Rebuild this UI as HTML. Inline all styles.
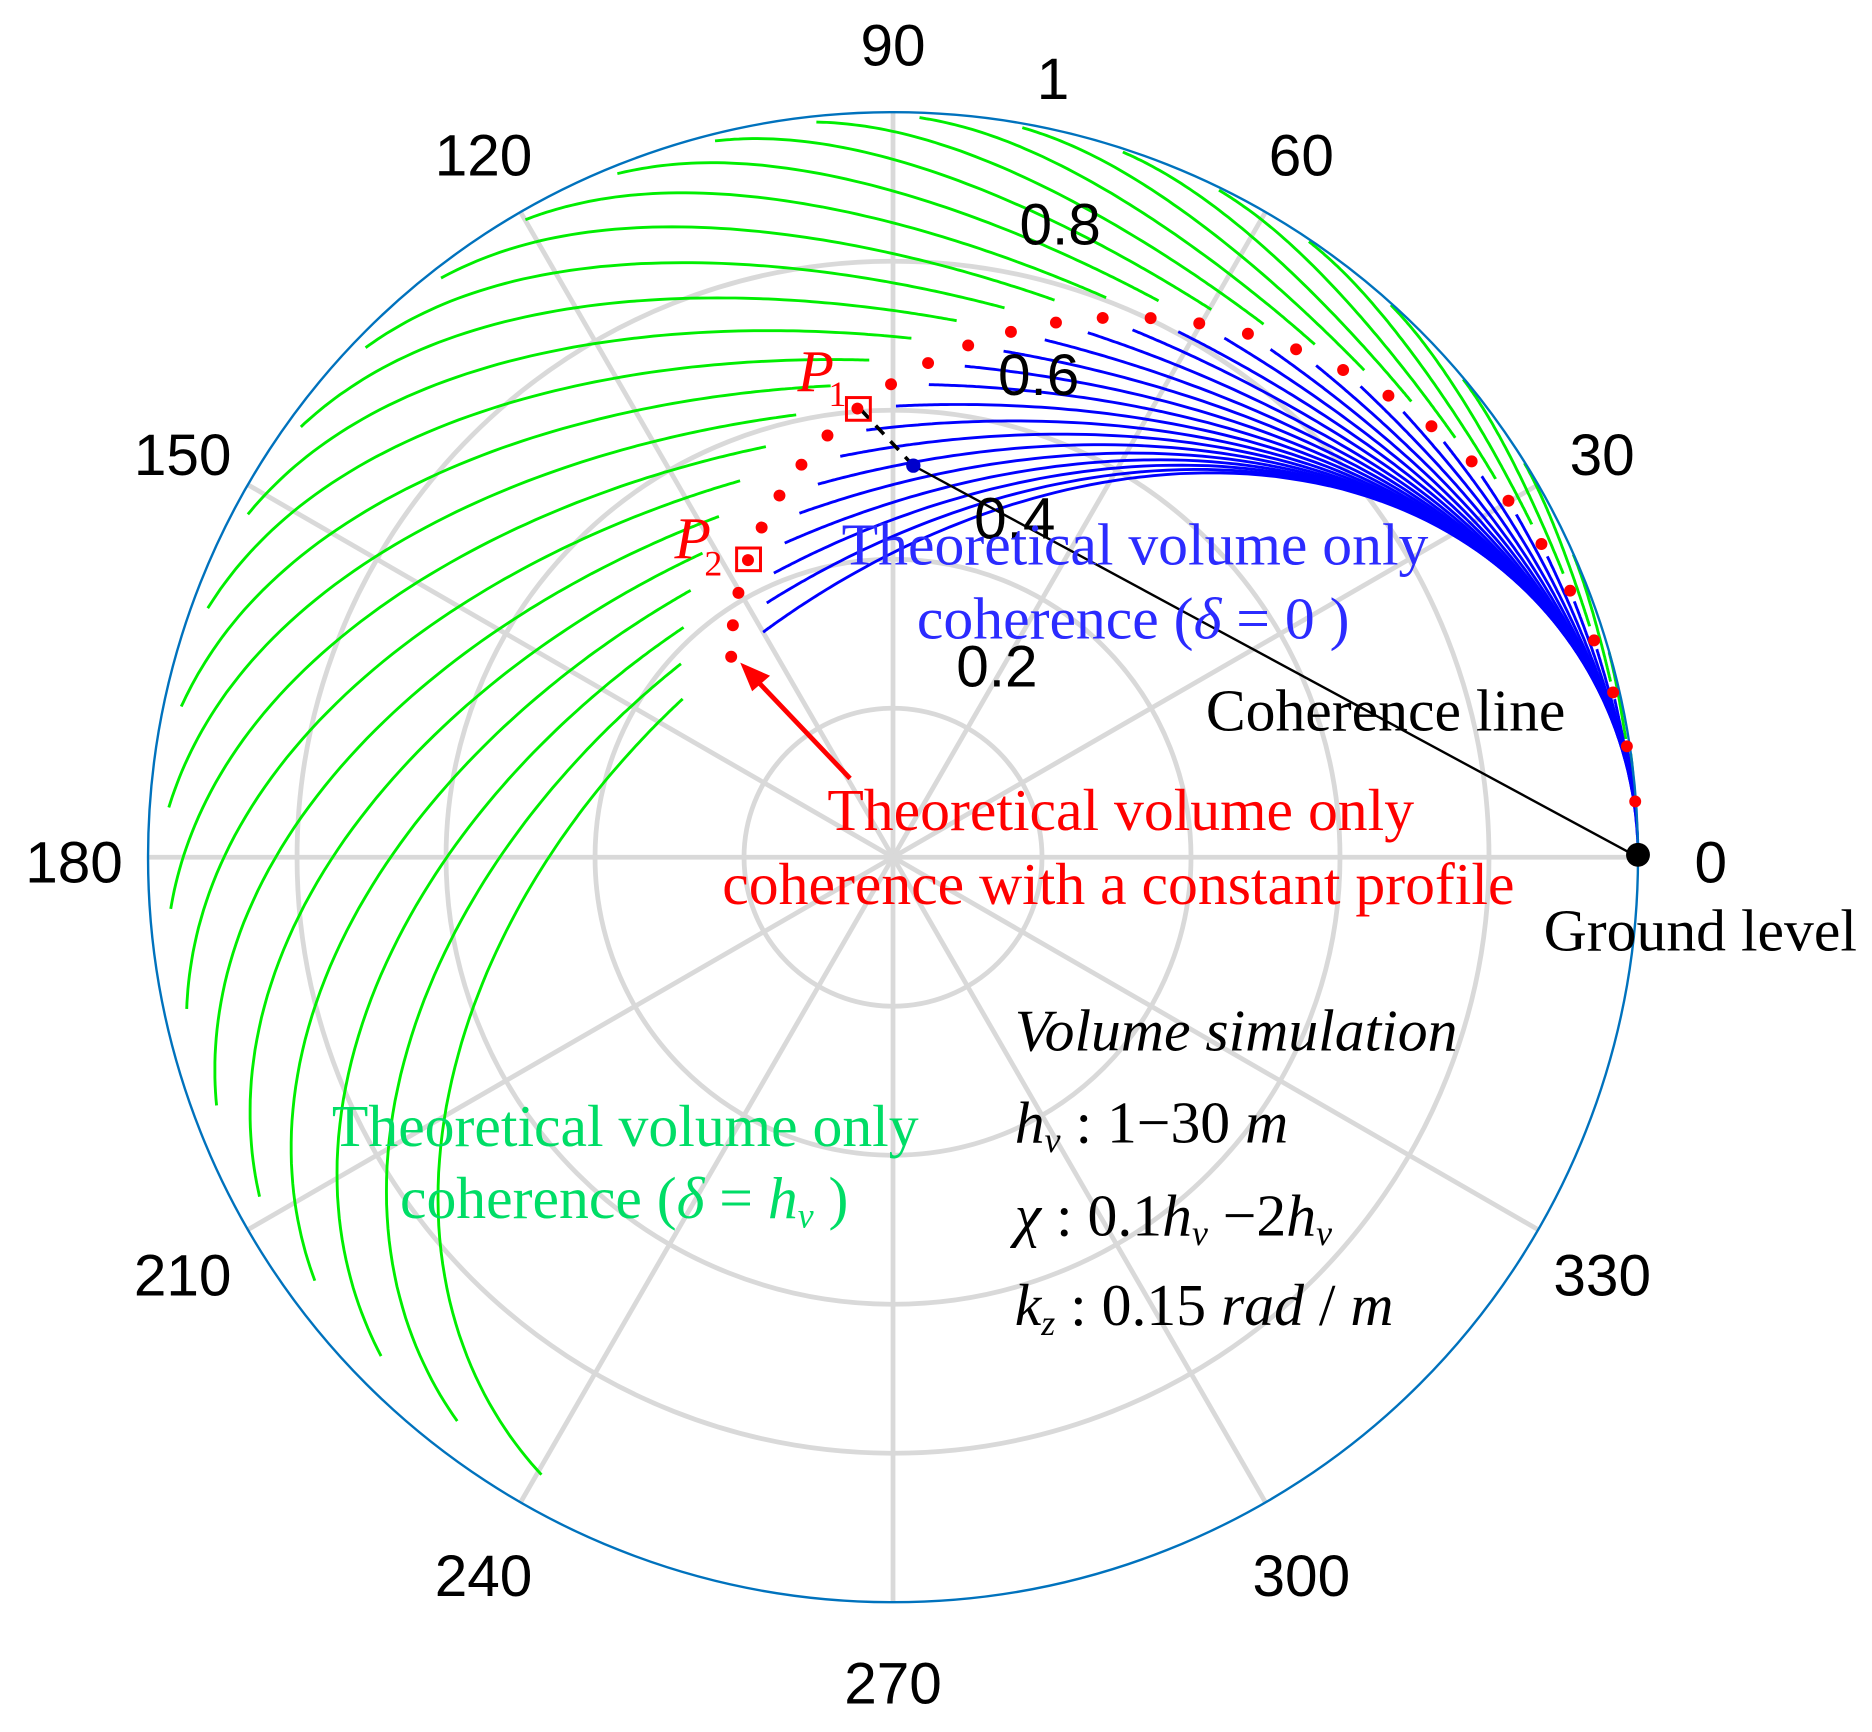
<!DOCTYPE html>
<html><head><meta charset="utf-8"><style>
html,body{margin:0;padding:0;background:#fff;}
svg{display:block;}
</style></head><body>
<svg id="s" width="1872" height="1732" viewBox="0 0 1568 1450.7" preserveAspectRatio="none" xmlns="http://www.w3.org/2000/svg" font-family="Liberation Sans, Arial, sans-serif">
<g id="grid" stroke="#d9d9d9" stroke-width="4" fill="none"></g>
<g id="curves" fill="none" stroke-width="2.4"></g>
<circle cx="748" cy="718" r="624" fill="none" stroke="#0072bd" stroke-width="2"/>
<line x1="1372" y1="718" x2="765" y2="390" stroke="#000" stroke-width="2"/>
<line x1="765" y1="390" x2="720" y2="342" stroke="#000" stroke-width="3" stroke-dasharray="10,8"/>
<circle cx="765" cy="390" r="6" fill="#0000cc"/>
<circle cx="1372" cy="716" r="10" fill="#000"/>
<g id="dots" fill="#ff0000"></g>
<rect x="709" y="333" width="20" height="19" fill="none" stroke="#ff0000" stroke-width="2.5"/>
<rect x="617" y="459" width="20" height="19" fill="none" stroke="#ff0000" stroke-width="2.5"/>
<line x1="712" y1="652" x2="632" y2="568" stroke="#ff0000" stroke-width="4"/>
<polygon points="620,555 645,566 630,579" fill="#ff0000"/>
<g font-size="49" fill="#000" text-anchor="middle">
<text x="748" y="55">90</text><text x="1090" y="147">60</text><text x="1342" y="398">30</text>
<text x="1433" y="739">0</text><text x="1342" y="1085">330</text><text x="1090" y="1337">300</text>
<text x="748" y="1427">270</text><text x="405" y="1337">240</text><text x="153" y="1085">210</text>
<text x="62" y="739">180</text><text x="153" y="398">150</text><text x="405" y="147">120</text>
<text x="835" y="575">0.2</text><text x="850" y="451">0.4</text><text x="870" y="331">0.6</text>
<text x="888" y="205">0.8</text><text x="882" y="83">1</text>
</g>
<g font-family="Liberation Serif, Times New Roman, serif" font-size="50">
<text x="705" y="473" fill="#2b2bff">Theoretical volume only</text>
<text x="768" y="535" fill="#2b2bff">coherence (<tspan font-style="italic">δ</tspan> = 0 )</text>
<text x="1010" y="612" fill="#000">Coherence line</text>
<text x="693" y="695" fill="#ff0000">Theoretical volume only</text>
<text x="605" y="757" fill="#ff0000">coherence with a constant profile</text>
<text x="1293" y="796" fill="#000">Ground level</text>
<text x="278" y="960" fill="#00dd66">Theoretical volume only</text>
<text x="335" y="1020" fill="#00dd66">coherence (<tspan font-style="italic">δ</tspan> = <tspan font-style="italic">h</tspan><tspan font-size="30" dy="8" font-style="italic">v</tspan><tspan dy="-8"> )</tspan></text>
<text x="850" y="880" font-style="italic">Volume simulation</text>
<text x="850" y="957"><tspan font-style="italic">h</tspan><tspan font-size="30" dy="8" font-style="italic">v</tspan><tspan dy="-8"> :  1</tspan>−30 <tspan font-style="italic">m</tspan></text>
<text x="850" y="1035"><tspan font-style="italic">χ</tspan> :  0.1<tspan font-style="italic">h</tspan><tspan font-size="30" dy="8" font-style="italic">v</tspan><tspan dy="-8"> −2</tspan><tspan font-style="italic">h</tspan><tspan font-size="30" dy="8" font-style="italic">v</tspan></text>
<text x="850" y="1110"><tspan font-style="italic">k</tspan><tspan font-size="30" dy="8" font-style="italic">z</tspan><tspan dy="-8"> :  0.15 </tspan><tspan font-style="italic">rad</tspan> / <tspan font-style="italic">m</tspan></text>
<text x="668" y="328" fill="#ff0000" font-style="italic">P</text><text x="694" y="340" fill="#ff0000" font-size="30">1</text>
<text x="565" y="468" fill="#ff0000" font-style="italic">P</text><text x="590" y="482" fill="#ff0000" font-size="30">2</text>
</g>
<script>
(function(){
var NS="http://www.w3.org/2000/svg",cx=748,cy=718,R=624;
function el(p,t,a){var e=document.createElementNS(NS,t);for(var k in a)e.setAttribute(k,a[k]);p.appendChild(e);return e;}
var g=document.getElementById('grid');
[0.2,0.4,0.6,0.8].forEach(function(f){el(g,'circle',{cx:cx,cy:cy,r:R*f});});
for(var d=0;d<360;d+=30){var a=d*Math.PI/180;el(g,'line',{x1:cx,y1:cy,x2:cx+R*Math.cos(a),y2:cy-R*Math.sin(a)});}
function gam(A,T){
 if(Math.abs(A)<1e-9){var s=Math.sin(T/2)/(T/2);return [s*Math.cos(T/2),s*Math.sin(T/2)];}
 var eA=Math.exp(A);
 var nr=A*(eA*Math.cos(T)-1), ni=A*eA*Math.sin(T);
 var dr=A*(eA-1), di=T*(eA-1);
 var m=dr*dr+di*di;return [(nr*dr+ni*di)/m,(ni*dr-nr*di)/m];
}
var cg=document.getElementById('curves'),dg=document.getElementById('dots');
for(var hv=1;hv<=30;hv++){
 var T=0.15*hv;
 ['b','g'].forEach(function(k){
  var pts=[];var lo=k=='b'?0.1:0.07, hi=k=='b'?4:2.5;
  for(var i=0;i<=100;i++){var c=lo*Math.pow(hi/lo,i/100);var A=(k=='b'?-1:1)/c;var z=gam(A,T);pts.push((cx+R*z[0]).toFixed(1)+','+(cy-R*z[1]).toFixed(1));}
  el(cg,'polyline',{points:pts.join(' '),stroke:k=='b'?'#0000ff':'#00ee00'});
 });
 var z=gam(0,T);el(dg,'circle',{cx:cx+R*z[0],cy:cy-R*z[1],r:5});
}
})();
</script>
</svg>
</body></html>
